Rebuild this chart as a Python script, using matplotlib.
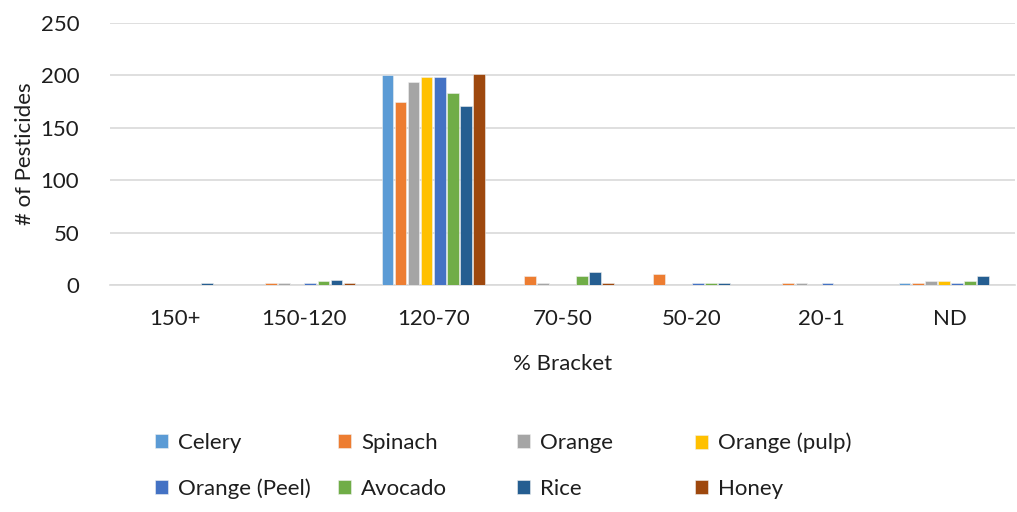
import numpy as np
import matplotlib.pyplot as plt

plt.rcParams['font.family'] = ['Lato', 'DejaVu Sans']

brackets = ["150+", "150-120", "120-70", "70-50", "50-20", "20-1", "ND"]
series = ["Celery", "Spinach", "Orange", "Orange (pulp)",
          "Orange (Peel)", "Avocado", "Rice", "Honey"]

celery = [0, 0, 200, 0, 0, 0, 2]
spinach = [0, 2, 175, 9, 11, 2, 2]
orange = [0, 2, 194, 2, 0, 2, 4]
orange_pulp = [0, 0, 199, 0, 0, 0, 4]
orange_peel = [0, 2, 199, 0, 2, 2, 2]
avocado = [0, 4, 183, 9, 2, 0, 4]
rice = [2, 5, 171, 13, 2, 0, 9]
honey = [0, 2, 201, 2, 0, 0, 0]

values = [celery, spinach, orange, orange_pulp, orange_peel, avocado, rice, honey]
colors = ["#5B9BD5", "#ED7D31", "#A5A5A5", "#FFC000",
          "#4472C4", "#70AD47", "#255E91", "#9E480E"]
txt = "#1e1e1e"
fs = 16

fig = plt.figure(figsize=(10.17, 5.12), dpi=100)
ax = fig.add_axes([0.108, 0.443, 0.890, 0.512])

x = np.arange(len(brackets))
w = 0.101
bars = []
for i, (name, vals, c) in enumerate(zip(series, values, colors)):
    b = ax.bar(x + (i - 3.5) * w, vals, width=w * 0.9, color=c, label=name,
               edgecolor="#f0f0f0", linewidth=0.4, zorder=3)
    bars.append(b)

ax.set_xlim(-0.5, len(brackets) - 0.5)
ax.set_ylim(0, 250)
ax.set_yticks(range(0, 251, 50))
ax.set_xticks(x)
ax.set_xticklabels(brackets)
ax.yaxis.grid(True, color="#D9D9D9", linewidth=1.2, zorder=0)
for s in ["top", "right", "left"]:
    ax.spines[s].set_visible(False)
ax.spines["bottom"].set_color("#D9D9D9")
ax.spines["bottom"].set_linewidth(1.2)
ax.tick_params(length=0, labelsize=fs, colors=txt)
ax.tick_params(axis="x", pad=17)
ax.tick_params(axis="y", pad=22)
ax.set_ylabel("# of Pesticides", fontsize=fs, color=txt, labelpad=4)
ax.set_xlabel("% Bracket", fontsize=fs, color=txt, labelpad=18)

# legend: four fixed-width columns, two rows
col_x = [155, 338, 517, 695]
for k in range(4):
    fig.legend([bars[k], bars[k + 4]], [series[k], series[k + 4]],
               loc="center left", bbox_to_anchor=(col_x[k] / 1017, 0.09),
               frameon=False, fontsize=fs, labelcolor=txt,
               handlelength=0.6, handleheight=0.6, handletextpad=0.45,
               labelspacing=1.15, borderpad=0, borderaxespad=0)

fig.savefig("out.png", dpi=100)
